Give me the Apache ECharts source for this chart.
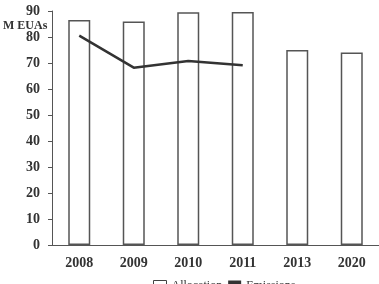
<!DOCTYPE html>
<html>
<head>
<meta charset="utf-8">
<script src="https://cdn.jsdelivr.net/npm/echarts@6/dist/echarts.min.js"></script>
<style>
  html, body { margin: 0; padding: 0; background: #fff; }
  #chart { width: 379px; height: 284px; }
</style>
</head>
<body>
<div id="chart"></div>
<script>
const years = ["2008", "2009", "2010", "2011", "2013", "2020"];
const allocation = [86.5, 86, 89.5, 89.6, 75, 74];
const emissions = [80.5, 68.2, 70.8, 69.1, null, null];

const chart = echarts.init(document.getElementById("chart"));
const font = "'Liberation Serif', 'Times New Roman', serif";

chart.setOption({
  animation: false,
  title: {
    text: "M EUAs",
    left: 3,
    top: 20,
    padding: 0,
    textStyle: { fontFamily: font, fontSize: 12, fontWeight: "bold", color: "#333" },
  },
  grid: { left: 52, right: 0, top: 11, bottom: 39 },
  legend: {
    top: 280,
    left: 153,
    padding: 0,
    itemGap: 6,
    itemWidth: 13,
    itemHeight: 11,
    textStyle: { fontFamily: font, fontSize: 12, color: "#333" },
    data: [
      { name: "Allocation", icon: "rect", itemStyle: { color: "#fff", borderColor: "#444", borderWidth: 1 } },
      { name: "Emissions", icon: "rect", itemStyle: { color: "#333", borderWidth: 0 } },
    ],
  },
  xAxis: {
    type: "category",
    data: years,
    axisLine: { lineStyle: { color: "#555", width: 1 } },
    axisTick: { show: false },
    axisLabel: { fontFamily: font, fontSize: 14, fontWeight: "bold", color: "#333", margin: 11 },
  },
  yAxis: {
    type: "value",
    min: 0,
    max: 90,
    interval: 10,
    splitLine: { show: false },
    axisLine: { show: true, lineStyle: { color: "#555", width: 1 } },
    axisTick: { show: true, length: 4, lineStyle: { color: "#555" } },
    axisLabel: { fontFamily: font, fontSize: 14, fontWeight: "bold", color: "#333", margin: 12 },
  },
  series: [
    {
      name: "Allocation",
      type: "bar",
      data: allocation,
      barWidth: 22,
      itemStyle: { color: "#fff", borderColor: "#555", borderWidth: 1.5 },
    },
    {
      name: "Emissions",
      type: "line",
      data: emissions,
      showSymbol: false,
      lineStyle: { color: "#333", width: 2.5 },
      itemStyle: { color: "#333" },
    },
  ],
});
</script>
</body>
</html>
